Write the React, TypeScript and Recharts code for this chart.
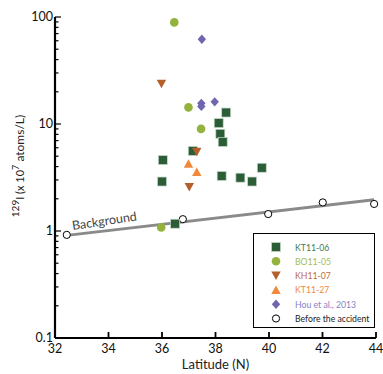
import React from 'react';
import { ScatterChart, Scatter, XAxis, YAxis, ReferenceLine, ReferenceDot, Legend } from 'recharts';

const kt1106 = [
  { x: 36.0, y: 2.9 }, { x: 36.03, y: 4.6 }, { x: 36.49, y: 1.17 }, { x: 37.15, y: 5.6 },
  { x: 38.12, y: 10.2 }, { x: 38.18, y: 8.1 }, { x: 38.27, y: 6.8 }, { x: 38.4, y: 12.8 },
  { x: 38.23, y: 3.27 }, { x: 38.93, y: 3.15 }, { x: 39.37, y: 2.9 }, { x: 39.73, y: 3.9 },
];
const bo1105 = [
  { x: 36.46, y: 89 }, { x: 36.99, y: 14.3 }, { x: 37.46, y: 9.0 }, { x: 35.97, y: 1.08 },
];
const kh1107 = [
  { x: 35.98, y: 23.8 }, { x: 37.3, y: 5.5 }, { x: 37.02, y: 2.58 },
];
const kt1127 = [
  { x: 36.99, y: 4.26 }, { x: 37.3, y: 3.56 },
];
const hou2013 = [
  { x: 37.49, y: 62 }, { x: 37.47, y: 15.6 }, { x: 37.47, y: 14.6 }, { x: 37.97, y: 16.1 },
];
const beforeAccident = [
  { x: 32.44, y: 0.92 }, { x: 36.78, y: 1.29 }, { x: 39.97, y: 1.44 }, { x: 42.01, y: 1.85 }, { x: 43.93, y: 1.79 },
];
const backgroundLine = [
  { x: 32.44, y: 0.91 }, { x: 43.93, y: 1.96 },
];
const backgroundLabel = { x: 33.85, y: 1.21, text: 'Background' };

const xTicks = [32, 34, 36, 38, 40, 42, 44];
const yMajor = [0.1, 1, 10, 100];
const yTicks = [0.1, 0.2, 0.3, 0.4, 0.5, 0.6, 0.7, 0.8, 0.9, 1, 2, 3, 4, 5, 6, 7, 8, 9, 10, 20, 30, 40, 50, 60, 70, 80, 90, 100];

const C_KT06 = '#2b5e37';
const C_BO = '#93b33e';
const C_KH = '#b55f2c';
const C_KT27 = '#f2883a';
const C_HOU = '#6f66b0';

const FONT = 'Lato, "Open Sans", sans-serif';

const Square = (p: any) => (
  <rect x={p.cx - 4.5} y={p.cy - 4.5} width={9} height={9} fill={C_KT06} stroke="#c8d8cc" strokeWidth={0.7} />
);
const Dot = (p: any) => <circle cx={p.cx} cy={p.cy} r={4.3} fill={C_BO} />;
const DownTri = (p: any) => (
  <polygon points={`${p.cx - 4.7},${p.cy - 4} ${p.cx + 4.7},${p.cy - 4} ${p.cx},${p.cy + 4.5}`} fill={C_KH} />
);
const UpTri = (p: any) => (
  <polygon points={`${p.cx - 4.7},${p.cy + 4} ${p.cx + 4.7},${p.cy + 4} ${p.cx},${p.cy - 4.5}`} fill={C_KT27} />
);
const Diamond = (p: any) => (
  <polygon points={`${p.cx},${p.cy - 4.7} ${p.cx + 4.2},${p.cy} ${p.cx},${p.cy + 4.7} ${p.cx - 4.2},${p.cy}`} fill={C_HOU} />
);
const OpenCircle = (p: any) => <circle cx={p.cx} cy={p.cy} r={3.6} fill="#fff" stroke="#000" strokeWidth={1} />;

const legendItems = [
  { name: 'KT11-06', color: '#3f7a4e', icon: (cx: number, cy: number) => <Square cx={cx} cy={cy} /> },
  { name: 'BO11-05', color: '#9fbd55', icon: (cx: number, cy: number) => <Dot cx={cx} cy={cy} /> },
  { name: 'KH11-07', color: '#c06a3c', icon: (cx: number, cy: number) => <DownTri cx={cx} cy={cy} /> },
  { name: 'KT11-27', color: '#f2883a', icon: (cx: number, cy: number) => <UpTri cx={cx} cy={cy} /> },
  { name: 'Hou et al., 2013', color: '#8a80c4', icon: (cx: number, cy: number) => <Diamond cx={cx} cy={cy} /> },
  { name: 'Before the accident', color: '#222', icon: (cx: number, cy: number) => <OpenCircle cx={cx} cy={cy} /> },
];

const XTick = (props: any) => {
  const { x, y, payload } = props;
  return (
    <g>
      <line x1={x} y1={y} x2={x} y2={y - 6} stroke="#000" strokeWidth={1.8} />
      <text x={x} y={y + 15} textAnchor="middle" fontSize={12.5} fontFamily={FONT} fill="#111">
        {payload.value}
      </text>
    </g>
  );
};

const YTick = (props: any) => {
  const { x, y, payload } = props;
  const v = payload.value;
  const major = yMajor.some((m) => Math.abs(m - v) < 1e-9);
  return (
    <g>
      <line x1={x} y1={y} x2={x + (major ? 6 : 3.5)} y2={y} stroke="#000" strokeWidth={1.2} />
      {major && (
        <text x={x - 2} y={y + 3.5} textAnchor="end" fontSize={12.5} fontFamily={FONT} fill="#111">{v}</text>
      )}
    </g>
  );
};

const YLabel = () => (
  <text transform="translate(16,158) rotate(-90)" textAnchor="middle" fontFamily={FONT} fontSize={13} fill="#222">
    <tspan fontSize={10} dy={-5}>129</tspan>
    <tspan fontSize={11} dy={5}>I (x 10</tspan>
    <tspan fontSize={9} dy={-5}>7</tspan>
    <tspan fontSize={12} dy={5}> atoms/L)</tspan>
  </text>
);

const LegendBox = () => (
  <div style={{ width: 122, height: 95, border: '1.3px solid #000', background: '#fff', boxSizing: 'border-box', position: 'relative' }}>
    <svg width={122} height={95} style={{ position: 'absolute', left: 0, top: 0 }}>
      {legendItems.map((it, i) => {
        const cy = 13 + i * 14.3;
        return (
          <g key={it.name}>
            {it.icon(22, cy)}
            <text x={41} y={cy + 3.5} fontSize={8.7} fontFamily={FONT} fill={it.color}>{it.name}</text>
          </g>
        );
      })}
    </svg>
  </div>
);

const BackgroundText = (props: any) => {
  const { viewBox } = props;
  const cx = viewBox.x + viewBox.width / 2;
  const cy = viewBox.y + viewBox.height / 2;
  return (
    <text x={cx} y={cy} transform={`rotate(-8.5, ${cx}, ${cy})`} textAnchor="middle" dominantBaseline="middle" fontSize={12.5} fontFamily={FONT} fill="#444">
      {backgroundLabel.text}
    </text>
  );
};

export default function App() {
  return (
    <div style={{ paddingLeft: 8, paddingTop: 8, width: 375, height: 366 }}>
      <style>{'body{margin:0;overflow:hidden}'}</style>
      <ScatterChart width={375} height={366} margin={{ top: 9, right: 7, left: 0, bottom: 0 }}>
        <XAxis
          type="number"
          dataKey="x"
          domain={[32, 44]}
          ticks={xTicks}
          interval={0}
          height={36}
          axisLine={{ stroke: '#000', strokeWidth: 2.2 }}
          tickLine={false}
          tickSize={0}
          tickMargin={0}
          tick={<XTick />}
          label={{ value: 'Latitude (N)', position: 'insideBottom', offset: 5, fontSize: 13, fontFamily: FONT, fill: '#222' }}
        />
        <YAxis
          type="number"
          dataKey="y"
          scale="log"
          domain={[0.1, 100]}
          ticks={yTicks}
          interval={0}
          width={47}
          axisLine={{ stroke: '#000', strokeWidth: 2.2 }}
          tickLine={false}
          tickSize={0}
          tickMargin={0}
          tick={<YTick />}
          label={<YLabel />}
        />
        <ReferenceLine segment={backgroundLine} stroke="#8a8a8a" strokeWidth={3} ifOverflow="extendDomain" />
        <ReferenceDot x={backgroundLabel.x} y={backgroundLabel.y} r={0} fill="none" stroke="none" label={<BackgroundText />} />
        <Scatter name="Before the accident" data={beforeAccident} shape={<OpenCircle />} isAnimationActive={false} />
        <Scatter name="KT11-06" data={kt1106} shape={<Square />} isAnimationActive={false} />
        <Scatter name="BO11-05" data={bo1105} shape={<Dot />} isAnimationActive={false} />
        <Scatter name="KH11-07" data={kh1107} shape={<DownTri />} isAnimationActive={false} />
        <Scatter name="KT11-27" data={kt1127} shape={<UpTri />} isAnimationActive={false} />
        <Scatter name="Hou et al., 2013" data={hou2013} shape={<Diamond />} isAnimationActive={false} />
        <Legend
          layout="vertical"
          align="center"
          verticalAlign="middle"
          content={<LegendBox />}
          wrapperStyle={{ position: 'absolute', left: 245, top: 225, width: 124, height: 97 }}
        />
      </ScatterChart>
    </div>
  );
}
